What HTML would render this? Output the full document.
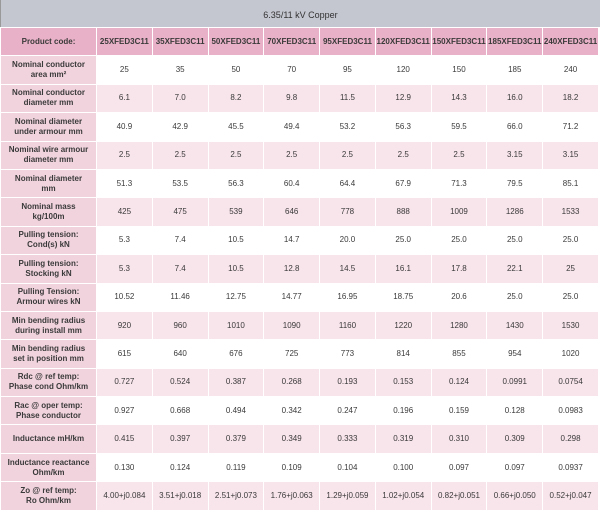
<!DOCTYPE html>
<html><head><style>
body{margin:0;background:#fff;width:600px;height:512px;overflow:hidden;font-family:"Liberation Sans",sans-serif;}
.t{position:absolute;left:0;top:0;width:600px;height:27px;background:#c4c6d0;color:#333;font-size:9px;text-align:center;line-height:30px;border-left:1px solid #999;box-sizing:border-box}
table{position:absolute;left:0;top:27px;width:599px;border-collapse:separate;border-spacing:1px;table-layout:fixed;font-size:8px;color:#3a3a3a}
tr{height:27.4px}
td{text-align:center;vertical-align:middle;padding:0;line-height:10px;height:27.4px;overflow:hidden}
td:first-child{width:95px;background:#f1d3de;font-weight:bold;}
tr.h td{background:#e9b1c7;font-weight:bold;font-size:8px}
tr.h td:first-child{background:#e9b1c7}
tr.p td{background:#f8e4eb}
tr.p td:first-child{background:#f1d3de}
</style></head><body>
<div class="t">6.35/11 kV Copper</div>
<table>
<tr class="h"><td>Product code:</td><td>25XFED3C11</td><td>35XFED3C11</td><td>50XFED3C11</td><td>70XFED3C11</td><td>95XFED3C11</td><td>120XFED3C11</td><td>150XFED3C11</td><td>185XFED3C11</td><td>240XFED3C11</td></tr>
<tr><td>Nominal conductor<br>area mm²</td><td>25</td><td>35</td><td>50</td><td>70</td><td>95</td><td>120</td><td>150</td><td>185</td><td>240</td></tr>
<tr class="p"><td>Nominal conductor<br>diameter mm</td><td>6.1</td><td>7.0</td><td>8.2</td><td>9.8</td><td>11.5</td><td>12.9</td><td>14.3</td><td>16.0</td><td>18.2</td></tr>
<tr><td>Nominal diameter<br>under armour mm</td><td>40.9</td><td>42.9</td><td>45.5</td><td>49.4</td><td>53.2</td><td>56.3</td><td>59.5</td><td>66.0</td><td>71.2</td></tr>
<tr class="p"><td>Nominal wire armour<br>diameter mm</td><td>2.5</td><td>2.5</td><td>2.5</td><td>2.5</td><td>2.5</td><td>2.5</td><td>2.5</td><td>3.15</td><td>3.15</td></tr>
<tr><td>Nominal diameter<br>mm</td><td>51.3</td><td>53.5</td><td>56.3</td><td>60.4</td><td>64.4</td><td>67.9</td><td>71.3</td><td>79.5</td><td>85.1</td></tr>
<tr class="p"><td>Nominal mass<br>kg/100m</td><td>425</td><td>475</td><td>539</td><td>646</td><td>778</td><td>888</td><td>1009</td><td>1286</td><td>1533</td></tr>
<tr><td>Pulling tension:<br>Cond(s) kN</td><td>5.3</td><td>7.4</td><td>10.5</td><td>14.7</td><td>20.0</td><td>25.0</td><td>25.0</td><td>25.0</td><td>25.0</td></tr>
<tr class="p"><td>Pulling tension:<br>Stocking kN</td><td>5.3</td><td>7.4</td><td>10.5</td><td>12.8</td><td>14.5</td><td>16.1</td><td>17.8</td><td>22.1</td><td>25</td></tr>
<tr><td>Pulling Tension:<br>Armour wires kN</td><td>10.52</td><td>11.46</td><td>12.75</td><td>14.77</td><td>16.95</td><td>18.75</td><td>20.6</td><td>25.0</td><td>25.0</td></tr>
<tr class="p"><td>Min bending radius<br>during install mm</td><td>920</td><td>960</td><td>1010</td><td>1090</td><td>1160</td><td>1220</td><td>1280</td><td>1430</td><td>1530</td></tr>
<tr><td>Min bending radius<br>set in position mm</td><td>615</td><td>640</td><td>676</td><td>725</td><td>773</td><td>814</td><td>855</td><td>954</td><td>1020</td></tr>
<tr class="p"><td>Rdc @ ref temp:<br>Phase cond Ohm/km</td><td>0.727</td><td>0.524</td><td>0.387</td><td>0.268</td><td>0.193</td><td>0.153</td><td>0.124</td><td>0.0991</td><td>0.0754</td></tr>
<tr><td>Rac @ oper temp:<br>Phase conductor</td><td>0.927</td><td>0.668</td><td>0.494</td><td>0.342</td><td>0.247</td><td>0.196</td><td>0.159</td><td>0.128</td><td>0.0983</td></tr>
<tr class="p"><td>Inductance mH/km</td><td>0.415</td><td>0.397</td><td>0.379</td><td>0.349</td><td>0.333</td><td>0.319</td><td>0.310</td><td>0.309</td><td>0.298</td></tr>
<tr><td>Inductance reactance<br>Ohm/km</td><td>0.130</td><td>0.124</td><td>0.119</td><td>0.109</td><td>0.104</td><td>0.100</td><td>0.097</td><td>0.097</td><td>0.0937</td></tr>
<tr class="p"><td>Zo @ ref temp:<br>Ro Ohm/km</td><td>4.00+j0.084</td><td>3.51+j0.018</td><td>2.51+j0.073</td><td>1.76+j0.063</td><td>1.29+j0.059</td><td>1.02+j0.054</td><td>0.82+j0.051</td><td>0.66+j0.050</td><td>0.52+j0.047</td></tr>
</table>
</body></html>
